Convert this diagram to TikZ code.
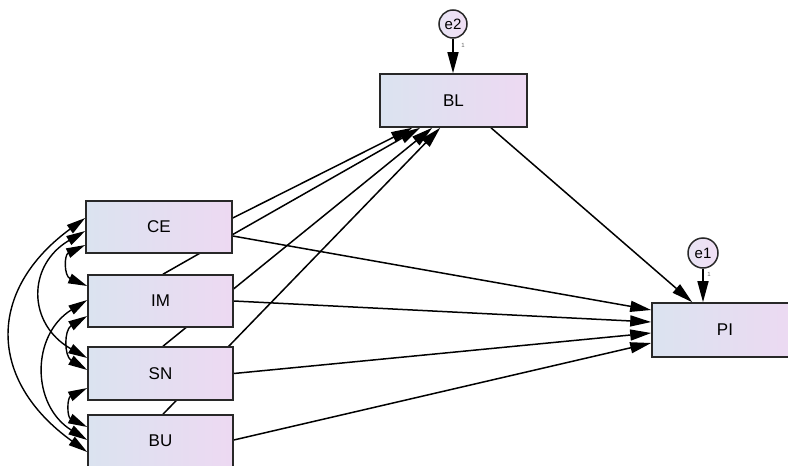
\documentclass[tikz,border=0pt]{standalone}
\usepackage{fontspec}
\setmainfont{Liberation Sans}
\usetikzlibrary{arrows.meta,backgrounds,calc}
\definecolor{boxL}{RGB}{219,227,240}
\definecolor{boxR}{RGB}{237,217,242}
\definecolor{circL}{RGB}{232,228,244}
\definecolor{circR}{RGB}{240,222,244}
\definecolor{edgec}{RGB}{40,40,40}
\tikzset{
  varbox/.style={draw=edgec, line width=1.6pt, left color=boxL, right color=boxR,
    minimum width=146pt, minimum height=52pt, inner sep=0pt, font=\fontsize{17}{19}\selectfont},
  errc/.style={circle, draw=edgec, line width=1.5pt, left color=circL, right color=circR,
    minimum size=28pt, inner sep=0pt, font=\fontsize{15}{16}\selectfont},
  arr/.style={-{Triangle[length=21pt,width=11pt]}, line width=1.5pt, black},
  cov/.style={{Triangle[length=19pt,width=10pt]}-{Triangle[length=19pt,width=10pt]}, line width=1.4pt, black},
  onelab/.style={font=\fontsize{6}{6}\selectfont, text=black!60, inner sep=0pt}
}
\begin{document}
\begin{tikzpicture}[x=1pt,y=-1pt]
\useasboundingbox (0,0) rectangle (788,466);
% nodes
\node[varbox] (CE) at (159,227) {CE};
\node[varbox, minimum width=145pt] (IM) at (160.5,301) {IM};
\node[varbox, minimum width=145pt, minimum height=53pt] (SN) at (160.5,373.5) {SN};
\node[varbox, minimum width=145pt] (BU) at (160.5,441) {BU};
\node[varbox, minimum width=147pt, minimum height=53pt] (BL) at (453.5,100.5) {BL};
\node[varbox, minimum height=54pt] (PI) at (725,330) {PI};
\node[errc] (e2) at (453,24) {e2};
\node[errc, minimum size=30pt] (e1) at (703,253) {e1};
\node[onelab] (one2) at (463,45) {1};
\node[onelab] (one1) at (709,274) {1};
\begin{scope}[on background layer]
\fill[white] (0,0) rectangle (788,466);
% error terms
\draw[arr] (e2) -- (e2 |- BL.north);
\draw[arr] (e1) -- (e1 |- PI.north);
% paths to BL
\draw[arr] ($(CE.east)+(0,-9)$) -- ($(BL.south west)+(33,0)$);
\draw[arr] ($(IM.north)+(2.5,0)$) -- ($(BL.south west)+(41,0)$);
\draw[arr] ($(SN.north)+(2.5,0)$) -- ($(BL.south west)+(53,0)$);
\draw[arr] ($(BU.north)+(2.5,0)$) -- ($(BL.south west)+(61,0)$);
% paths to PI
\draw[arr] ($(CE.east)+(0,9)$) -- ($(PI.west)+(0,-20)$);
\draw[arr] (IM.east) -- ($(PI.west)+(0,-8)$);
\draw[arr] (SN.east) -- ($(PI.west)+(0,3)$);
\draw[arr] ($(BU.east)+(0,-1)$) -- ($(PI.west)+(0,13)$);
\draw[arr] ($(BL.south)+(37.5,0)$) -- ($(PI.north west)+(41,0)$);
% covariances
\draw[cov] ($(CE.west)+(0,-9)$) .. controls (-13,290) and (-13,380) .. ($(BU.west)+(0,11)$);
\draw[cov] ($(CE.west)+(0,4)$) .. controls (27,265) and (27,324) .. ($(SN.west)+(0,-15.5)$);
\draw[cov] ($(IM.west)+(0,-1)$) .. controls (31,335) and (31,405) .. ($(BU.west)+(0,-1)$);
\draw[cov] ($(CE.west)+(0,18)$) .. controls (64,255) and (64,276) .. ($(IM.west)+(0,-15)$);
\draw[cov] ($(IM.west)+(0,15)$) .. controls (64,330) and (64,356) .. ($(SN.west)+(0,-3.5)$);
\draw[cov] ($(SN.west)+(0,14.5)$) .. controls (67,398) and (67,417) .. ($(BU.west)+(0,-14)$);
\end{scope}
\end{tikzpicture}
\end{document}
